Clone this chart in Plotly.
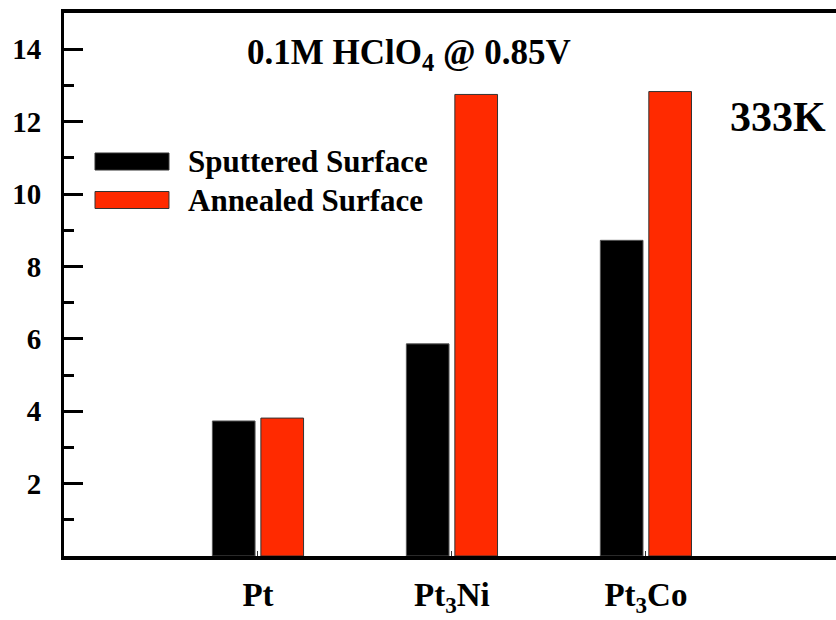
import plotly.graph_objects as go

categories = ["<b>Pt</b>", "<b>Pt<sub>3</sub>Ni</b>", "<b>Pt<sub>3</sub>Co</b>"]
cat_pos = [1, 2, 3]
sputtered = [3.73, 5.86, 8.72]
annealed = [3.81, 12.75, 12.83]
series_names = ["Sputtered Surface", "Annealed Surface"]
y_major = [2, 4, 6, 8, 10, 12, 14]
y_minor = [1, 3, 5, 7, 9, 11, 13]

FONT = "Liberation Serif"
RED = "rgb(255,42,0)"

fig = go.Figure()
fig.add_trace(go.Bar(x=cat_pos, y=sputtered, name=series_names[0], width=0.22, offset=-0.235,
                     marker=dict(color="black", line=dict(color="#555", width=1)), showlegend=False))
fig.add_trace(go.Bar(x=cat_pos, y=annealed, name=series_names[1], width=0.22, offset=0.015,
                     marker=dict(color=RED, line=dict(color="#333", width=1)), showlegend=False))

fig.update_layout(
    width=836, height=620,
    margin=dict(l=64, r=0, t=13, b=64),
    plot_bgcolor="white", paper_bgcolor="white",
    barmode="overlay",
    font=dict(family=FONT, color="black"),
    xaxis=dict(range=[0, 3.98], tickvals=cat_pos, ticktext=categories, automargin=False,
               ticks="inside", ticklen=5, tickwidth=1, tickcolor="#333",
               showline=True, linewidth=4, linecolor="black", mirror=True,
               showgrid=False, zeroline=False,
               tickfont=dict(size=33, family=FONT), ticklabelstandoff=6),
    yaxis=dict(range=[0, 15], tickvals=y_major, ticktext=[f"<b>{v}</b>" for v in y_major],
               automargin=False,
               ticks="inside", ticklen=19, tickwidth=3,
               tickcolor="black", showline=True, linewidth=3, linecolor="black",
               showgrid=False, zeroline=False,
               tickfont=dict(size=29, family=FONT), ticklabelstandoff=14,
               minor=dict(tickvals=y_minor, ticks="inside", ticklen=10, tickwidth=3, tickcolor="black")),
)

def px_x(p):
    return (p - 64) / 194.0

def px_y(p):
    return (556 - p) / 36.2

fig.add_annotation(text="<b>0.1M HClO<sub>4</sub> @ 0.85V</b>", x=px_x(409), y=px_y(54), xref="x", yref="y",
                   showarrow=False, font=dict(size=35, family=FONT))
fig.add_annotation(text="<b>333K</b>", x=px_x(778), y=px_y(117), xref="x", yref="y",
                   showarrow=False, font=dict(size=42, family=FONT))

# legend drawn manually
colors = ["black", RED]
for i, (nm, col) in enumerate(zip(series_names, colors)):
    yc = 161.5 + i * 38.5
    fig.add_shape(type="rect", xref="x", yref="y",
                  x0=px_x(95), x1=px_x(169), y0=px_y(yc + 8.5), y1=px_y(yc - 8.5),
                  fillcolor=col, line=dict(color="#333", width=1))
    fig.add_annotation(text=f"<b>{nm}</b>", x=px_x(186), y=px_y(yc), xref="x", yref="y",
                       xanchor="left", showarrow=False, font=dict(size=31, family=FONT))

fig.write_html("out.html")
